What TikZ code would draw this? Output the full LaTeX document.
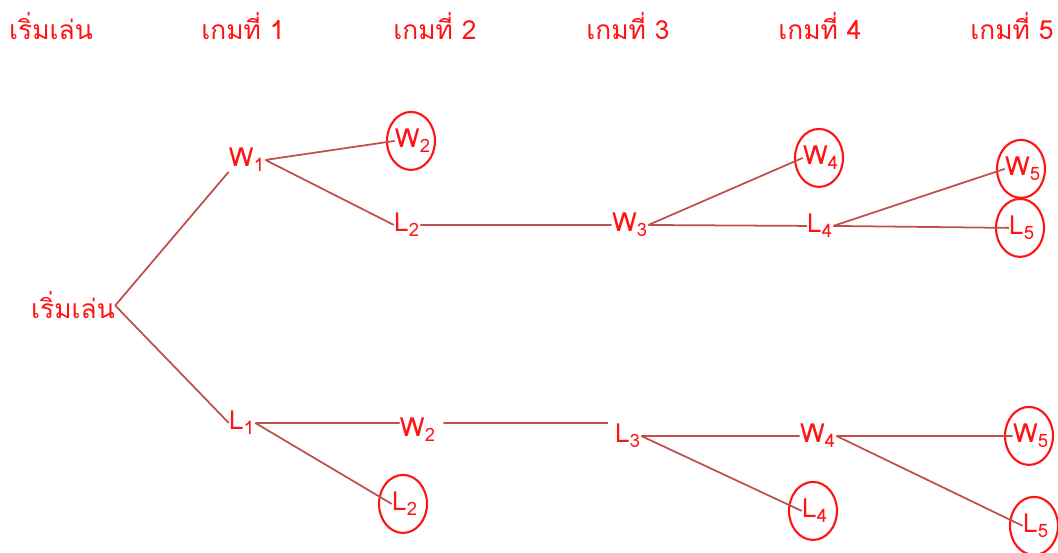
\documentclass[tikz,border=0pt]{standalone}
\usepackage{fontspec}
\setmainfont[Script=Thai]{Loma}
\definecolor{txtred}{RGB}{255,20,20}
\definecolor{branch}{RGB}{192,80,77}
\tikzset{every node/.append style={font=\fontsize{15}{18}\selectfont, text=txtred, inner sep=0pt, anchor=base}}
\tikzset{ring/.style={draw=txtred, line width=1.2pt}}

\begin{document}
\begin{tikzpicture}[x=0.02cm, y=-0.02cm]
    \useasboundingbox (0,0) rectangle (1058,553);

    % column headings
    \node (h0) at (51,40) {เริ่มเล่น};
    \node (h1) at (243,40) {เกมที่ 1};
    \node (h2) at (435,40) {เกมที่ 2};
    \node (h3) at (628,40) {เกมที่ 3};
    \node (h4) at (820,40) {เกมที่ 4};
    \node (h5) at (1012,40) {เกมที่ 5};

    % tree
    \node (s) at (73,319) {เริ่มเล่น};
    \node (w1) at (247,167) {W\textsubscript{1}};
    \node (l1) at (242,430) {L\textsubscript{1}};
    \node (w2a) at (413,148) {W\textsubscript{2}};
    \node (l2a) at (407,232) {L\textsubscript{2}};
    \node (w2b) at (418,437) {W\textsubscript{2}};
    \node (l2b) at (405,511) {L\textsubscript{2}};
    \node (w3) at (630,232) {W\textsubscript{3}};
    \node (l3) at (628,443) {L\textsubscript{3}};
    \node (w4a) at (821,165) {W\textsubscript{4}};
    \node (l4a) at (820,233) {L\textsubscript{4}};
    \node (w4b) at (818,443) {W\textsubscript{4}};
    \node (l4b) at (815,518) {L\textsubscript{4}};
    \node (w5a) at (1023,176) {W\textsubscript{5}};
    \node (l5a) at (1022,235) {L\textsubscript{5}};
    \node (w5b) at (1031,443) {W\textsubscript{5}};
    \node (l5b) at (1036,533) {L\textsubscript{5}};

    % finished series
    \foreach \n in {w2a,l2b,w4a,l4b,w5a,l5a,w5b,l5b}
      \draw[ring] ([xshift=-0.04cm]\n) ellipse [x radius=0.48cm, y radius=0.58cm];

    \draw[branch, line width=1pt]
      (s.east) -- (w1.south west)
      (s.east) -- (l1.west)
      (w1.east) -- (w2a.west)
      (w1.east) -- (l2a.west)
      (w3.east) -- (w4a.west)
      (w3.east) -- (l4a.west)
      (l4a.east) -- (w5a.west)
      (l4a.east) -- (l5a.west)
      (l1.east) -- (l1.east -| w2b.west)
      (l1.east) -- (l2b.west)
      (l3.east) -- (w4b.west)
      (l3.east) -- (l4b.west)
      (w4b.east) -- (w5b.west)
      (w4b.east) -- (l5b.west);
    \draw[branch, line width=1pt, shorten <=0.14cm, shorten >=0.14cm]
      (l2a.east) -- (w3.west)
      (w2b.east |- l1.east) -- (l3.west |- l1.east);

  \end{tikzpicture}
\end{document}
